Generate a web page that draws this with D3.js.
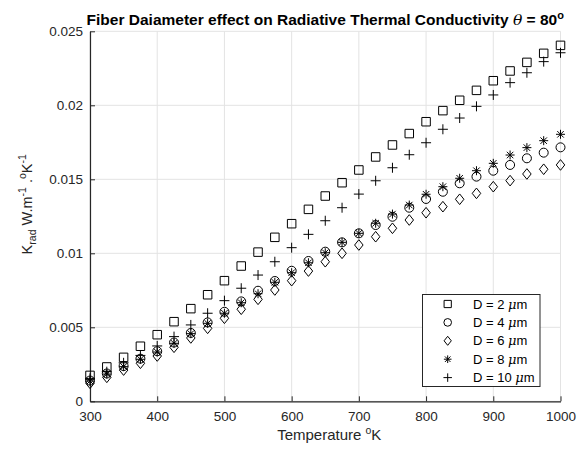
<!DOCTYPE html>
<html><head><meta charset="utf-8">
<script src="https://cdn.jsdelivr.net/npm/d3@7"></script>
<style>
body{margin:0;background:#fff;}
text{font-family:"Liberation Sans",Arial,sans-serif;}
</style></head>
<body><svg id="c" width="582" height="450"></svg>
<script>
const temps = [300,325,350,375,400,425,450,475,500,525,550,575,600,625,650,675,700,725,750,775,800,825,850,875,900,925,950,975,1000];
const d2  = [0.00175,0.00232,0.00297,0.00372,0.0045,0.00538,0.00626,0.0072,0.00815,0.00914,0.01008,0.01108,0.0120,0.01297,0.01387,0.01477,0.01563,0.01651,0.01732,0.01809,0.01889,0.01964,0.02034,0.02101,0.02166,0.02232,0.0229,0.02351,0.02405];
const d4  = [0.0014,0.00188,0.00238,0.00288,0.00338,0.00397,0.00462,0.00533,0.00605,0.00675,0.00747,0.00813,0.00882,0.00948,0.01011,0.01074,0.01135,0.01191,0.01247,0.01308,0.01367,0.01416,0.01473,0.01518,0.01558,0.01597,0.01642,0.0168,0.01716];
const d6  = [0.00122,0.00162,0.00211,0.00257,0.00306,0.00365,0.00428,0.00493,0.00561,0.00622,0.00689,0.00752,0.00815,0.0088,0.00943,0.0100,0.01056,0.01112,0.01169,0.01225,0.01274,0.01315,0.01365,0.01405,0.0145,0.01491,0.01536,0.01568,0.01597];
const d8  = [0.00137,0.00184,0.00234,0.00284,0.00333,0.00392,0.00457,0.00527,0.00595,0.00666,0.00727,0.00804,0.00869,0.00936,0.01004,0.01074,0.01135,0.01203,0.01265,0.01326,0.01399,0.0145,0.01507,0.01558,0.01608,0.01664,0.01714,0.01761,0.01804];
const d10 = [0.00155,0.0020,0.0026,0.0031,0.00374,0.00437,0.00516,0.00595,0.0068,0.00764,0.00853,0.00943,0.01038,0.01128,0.0122,0.01308,0.014,0.0149,0.01578,0.01666,0.01747,0.01838,0.01914,0.01993,0.0207,0.02153,0.0222,0.02295,0.02355];
const seriesNames = ["D = 2 ","D = 4 ","D = 6 ","D = 8 ","D = 10 "];
const seriesMarkers = ["square","circle","diamond","star","plus"];
const xTicks = [300,400,500,600,700,800,900,1000];
const yTicks = [0,0.005,0.01,0.015,0.02,0.025];
const yTickLabels = ["0","0.005","0.01","0.015","0.02","0.025"];

const allSeries = [d2,d4,d6,d8,d10];
const svg = d3.select("#c");
const m = {l:90, r:21.5, t:31.3, b:48.7};
const W = 582, H = 450;
const x = d3.scaleLinear().domain([300,1000]).range([m.l, W-m.r]);
const y = d3.scaleLinear().domain([0,0.025]).range([H-m.b, m.t]);
const ink = "#262626";

// grid
const g = svg.append("g");
g.selectAll(".gx").data(xTicks).join("line")
  .attr("x1",d=>x(d)).attr("x2",d=>x(d)).attr("y1",y(0)).attr("y2",y(0.025))
  .attr("stroke","#e3e3e3").attr("stroke-width",1);
g.selectAll(".gy").data(yTicks).join("line")
  .attr("y1",d=>y(d)).attr("y2",d=>y(d)).attr("x1",x(300)).attr("x2",x(1000))
  .attr("stroke","#e3e3e3").attr("stroke-width",1);

// axes
const xAxis = d3.axisBottom(x).tickValues(xTicks).tickSizeInner(-5).tickSizeOuter(0).tickPadding(10).tickFormat(d3.format("d"));
const yAxis = d3.axisLeft(y).tickValues(yTicks).tickSizeInner(-5).tickSizeOuter(0).tickPadding(7).tickFormat((d,i)=>yTickLabels[i]);
const gx = svg.append("g").attr("transform",`translate(0,${y(0)})`).call(xAxis);
const gy = svg.append("g").attr("transform",`translate(${x(300)},0)`).call(yAxis);
[gx,gy].forEach(a=>{
  a.select(".domain").attr("stroke",ink).attr("stroke-width",1.2);
  a.selectAll(".tick line").attr("stroke",ink).attr("stroke-width",1);
  a.selectAll(".tick text").attr("fill",ink).style("font-size","13.5px").style("font-family","'Liberation Sans',Arial,sans-serif");
});

// markers
function markerPath(type, s){
  const h = s/2;
  switch(type){
    case "square": return `M${-h},${-h}H${h}V${h}H${-h}Z`;
    case "circle": return `M${h},0A${h},${h} 0 1,1 ${-h},0A${h},${h} 0 1,1 ${h},0Z`;
    case "diamond": return `M0,${-h*1.25}L${h},0L0,${h*1.25}L${-h},0Z`;
    case "plus": return `M${-h},0H${h}M0,${-h}V${h}`;
    case "star": { const k=h*0.72; return `M${-h},0H${h}M0,${-h}V${h}M${-k},${-k}L${k},${k}M${-k},${k}L${k},${-k}`; }
  }
}
const sizes = {square:8.5, circle:9, diamond:8.5, star:9, plus:10};
allSeries.forEach((vals,i)=>{
  const type = seriesMarkers[i];
  svg.append("g").selectAll("path").data(vals).join("path")
    .attr("transform",(d,j)=>`translate(${x(temps[j])},${y(d)})`)
    .attr("d",markerPath(type,sizes[type]))
    .attr("fill","none").attr("stroke","#000").attr("stroke-width",1);
});

// legend
const lg = svg.append("g");
lg.append("rect").attr("x",422.5).attr("y",294.5).attr("width",117.5).attr("height",92)
  .attr("fill","#fff").attr("stroke",ink).attr("stroke-width",1);
seriesNames.forEach((nm,i)=>{
  const yy = 304 + i*18.4;
  lg.append("path").attr("transform",`translate(447.7,${yy})`)
    .attr("d",markerPath(seriesMarkers[i], sizes[seriesMarkers[i]]*0.85))
    .attr("fill","none").attr("stroke","#000").attr("stroke-width",1);
  const t = lg.append("text").attr("x",473).attr("y",yy+4.5).attr("fill","#000").style("font-size","13px");
  t.append("tspan").text(nm);
  t.append("tspan").text("μ").style("font-style","italic").style("font-family","'DejaVu Serif',serif");
  t.append("tspan").text("m");
});

// title
const tt = svg.append("text").attr("x",(x(300)+x(1000))/2).attr("y",25).attr("text-anchor","middle")
  .style("font-size","15.5px").style("font-weight","bold").attr("fill","#000");
tt.append("tspan").text("Fiber Daiameter effect on Radiative Thermal Conductivity ");
tt.append("tspan").text("θ").style("font-style","italic").style("font-weight","normal").style("font-family","'DejaVu Serif',serif");
tt.append("tspan").text(" = 80");
tt.append("tspan").text("o").attr("dy",-6).style("font-size","11px");

// x label
const xl = svg.append("text").attr("x",(x(300)+x(1000))/2 + 4).attr("y",440).attr("text-anchor","middle")
  .style("font-size","15px").attr("fill",ink);
xl.append("tspan").text("Temperature ");
xl.append("tspan").text("o").attr("dy",-6).style("font-size","10.5px");
xl.append("tspan").text("K").attr("dy",6);

// y label
const yl = svg.append("text").attr("transform",`translate(32,${(y(0)+y(0.025))/2 - 12}) rotate(-90)`)
  .attr("text-anchor","middle").style("font-size","14.5px").attr("fill",ink);
yl.append("tspan").text("K");
yl.append("tspan").text("rad").attr("dy",4).style("font-size","10.5px");
yl.append("tspan").text(" W.m").attr("dy",-4);
yl.append("tspan").text("-1").attr("dy",-6).style("font-size","10.5px");
yl.append("tspan").text(" .").attr("dy",6);
yl.append("tspan").text("o").attr("dy",-6).style("font-size","10.5px");
yl.append("tspan").text("K").attr("dy",6);
yl.append("tspan").text("-1").attr("dy",-6).style("font-size","10.5px");
</script>
</body></html>
